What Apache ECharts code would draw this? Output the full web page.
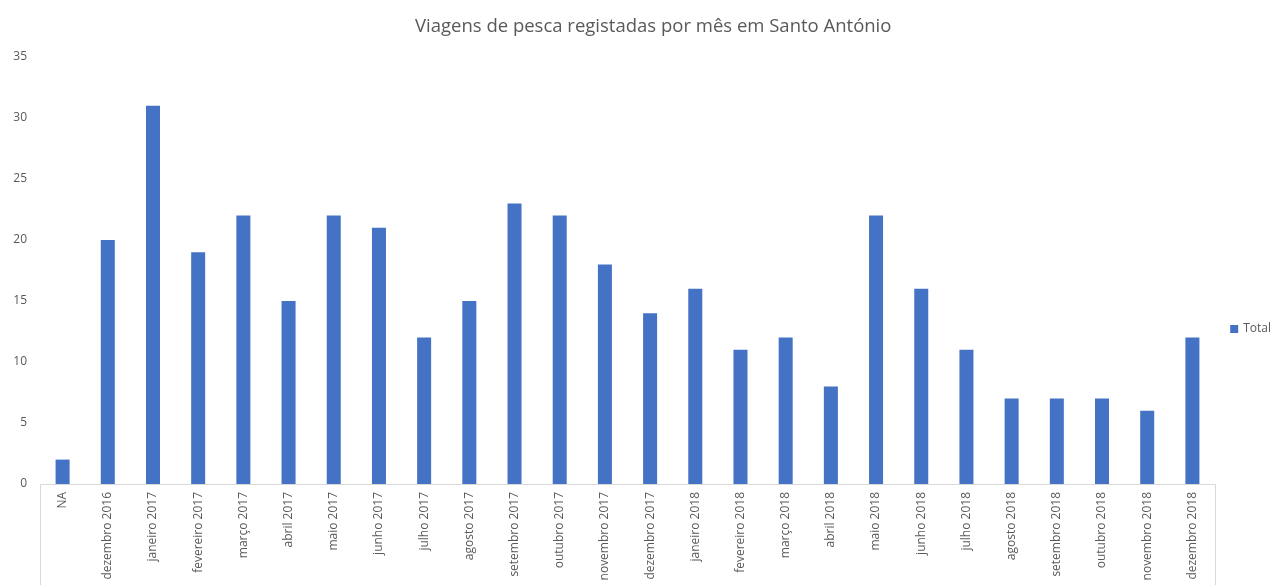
<!DOCTYPE html>
<html>
<head>
<meta charset="utf-8">
<script src="https://cdn.jsdelivr.net/npm/echarts@6/dist/echarts.min.js"></script>
<style>
  html, body { margin: 0; padding: 0; background: #fff; }
  #main { width: 1280px; height: 585px; }
</style>
</head>
<body>
<div id="main"></div>
<script>
// dados do gráfico
var meses = ['NA', 'dezembro 2016', 'janeiro 2017', 'fevereiro 2017', 'março 2017', 'abril 2017',
  'maio 2017', 'junho 2017', 'julho 2017', 'agosto 2017', 'setembro 2017', 'outubro 2017',
  'novembro 2017', 'dezembro 2017', 'janeiro 2018', 'fevereiro 2018', 'março 2018', 'abril 2018',
  'maio 2018', 'junho 2018', 'julho 2018', 'agosto 2018', 'setembro 2018', 'outubro 2018',
  'novembro 2018', 'dezembro 2018'];
var total = [2, 20, 31, 19, 22, 15, 22, 21, 12, 15, 23, 22, 18, 14, 16, 11, 12, 8, 22, 16, 11, 7, 7, 7, 6, 12];

var gridLeft = 40, gridRight = 65, gridTop = 57, gridBottom = 101;
var W = 1280, H = 585;

var myChart = echarts.init(document.getElementById('main'));

var option = {
  animation: false,
  title: {
    text: 'Viagens de pesca registadas por mês em Santo António',
    left: 410,
    top: 12,
    textStyle: { fontFamily: 'Open Sans', fontSize: 18.5, fontWeight: 'normal', color: '#595959' }
  },
  legend: {
    data: ['Total'],
    right: 4,
    top: 318,
    itemWidth: 8,
    itemHeight: 8,
    itemGap: 4,
    icon: 'rect',
    textStyle: { fontFamily: 'Open Sans', fontSize: 12, color: '#595959' }
  },
  grid: { left: gridLeft, right: gridRight, top: gridTop, bottom: gridBottom },
  xAxis: {
    type: 'category',
    data: meses,
    axisLine: { lineStyle: { color: '#d9d9d9', width: 1 } },
    axisTick: { show: false },
    axisLabel: {
      rotate: 90, interval: 0, margin: 8,
      fontFamily: 'Open Sans', fontSize: 12, color: '#595959'
    }
  },
  yAxis: {
    type: 'value',
    min: 0, max: 35, interval: 5,
    splitLine: { show: false },
    axisLine: { show: false },
    axisLabel: { fontFamily: 'Open Sans', fontSize: 12, color: '#595959', margin: 13 }
  },
  graphic: [
    { type: 'line', silent: true,
      shape: { x1: gridLeft + 0.5, y1: H - gridBottom, x2: gridLeft + 0.5, y2: H },
      style: { stroke: '#d9d9d9', lineWidth: 1 } },
    { type: 'line', silent: true,
      shape: { x1: W - gridRight + 0.5, y1: H - gridBottom, x2: W - gridRight + 0.5, y2: H },
      style: { stroke: '#d9d9d9', lineWidth: 1 } }
  ],
  series: [{
    name: 'Total',
    type: 'bar',
    data: total,
    barWidth: '31%',
    itemStyle: { color: '#4472C4' }
  }]
};

myChart.setOption(option);
</script>
</body>
</html>
